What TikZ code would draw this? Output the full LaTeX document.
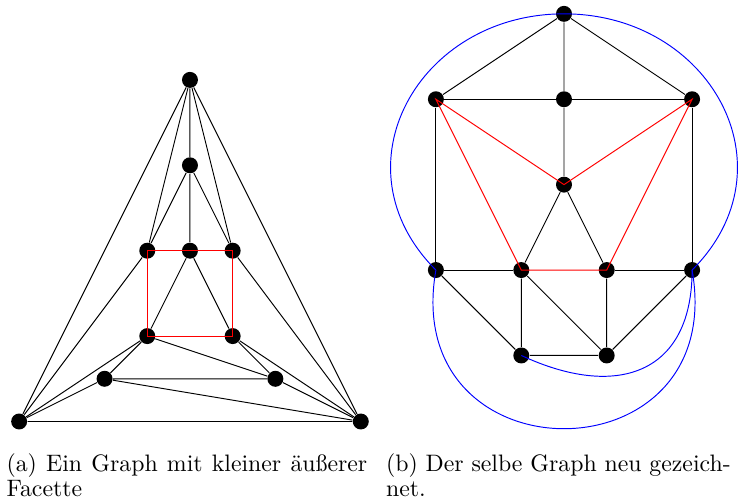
\documentclass[tikz,border=0pt]{standalone}
\usepackage{fontspec}
\usepackage{tikz}
\usetikzlibrary{positioning}

\begin{document}
\begin{tikzpicture}[
  vertex/.style={circle,fill=black,inner sep=0pt,minimum size=0.236cm},
  face/.style={red},
  outer/.style={blue},
  caption/.style={anchor=base west,inner sep=0pt,align=justify,
    font=\fontsize{10}{10.8}\selectfont}
]
\useasboundingbox (0,0) rectangle (10.931,7.386);

% (a) graph with small outer face
\begin{scope}[shift={(2.806,1.16)},x=1.2615cm,y=1.2615cm]
\node[vertex] (top) at (0,4) {};
\node[vertex] (mid) at (0,3) {};
\node[vertex] (ul) at (-0.5,2) {};
\node[vertex] (um) at (0,2) {};
\node[vertex] (ur) at (0.5,2) {};
\node[vertex] (ll) at (-0.5,1) {};
\node[vertex] (lr) at (0.5,1) {};
\node[vertex] (il) at (-1,0.5) {};
\node[vertex] (ir) at (1,0.5) {};
\node[vertex] (bl) at (-2,0) {};
\node[vertex] (br) at (2,0) {};

\draw (top) -- (mid) (top) -- (ul) (top) -- (ur) (top) -- (bl) (top) -- (br);
\draw (mid) -- (ul) (mid) -- (um) (mid) -- (ur);
\draw (um) -- (ll) (um) -- (lr);
\draw (ul) -- (bl) (ur) -- (br);
\draw (ll) -- (il) (ll) -- (bl) (ll) -- (ir);
\draw (lr) -- (ir) (lr) -- (br);
\draw (il) -- (ir) (il) -- (bl) (il) -- (br);
\draw (ir) -- (br) (bl) -- (br);
\draw[face] (ul.center) -- (um.center) -- (ur.center) -- (lr.center)
  -- (ll.center) -- cycle;
\end{scope}

% (b) same graph drawn again
\begin{scope}[shift={(8.331,3.397)},x=1.2615cm,y=1.2615cm]
\node[vertex] (t) at (0,3) {};
\node[vertex] (l2) at (-1.5,2) {};
\node[vertex] (m2) at (0,2) {};
\node[vertex] (r2) at (1.5,2) {};
\node[vertex] (c) at (0,1) {};
\node[vertex] (l3) at (-1.5,0) {};
\node[vertex] (p) at (-0.5,0) {};
\node[vertex] (q) at (0.5,0) {};
\node[vertex] (r3) at (1.5,0) {};
\node[vertex] (b1) at (-0.5,-1) {};
\node[vertex] (b2) at (0.5,-1) {};

\draw (t) -- (l2) (t) -- (m2) (t) -- (r2);
\draw (l2) -- (m2) (m2) -- (r2) (l2) -- (l3) (r2) -- (r3);
\draw (m2) -- (c) (c) -- (p) (c) -- (q);
\draw (l3) -- (p) (q) -- (r3);
\draw (l3) -- (b1) (r3) -- (b2);
\draw (p) -- (b1) (p) -- (b2) (q) -- (b2) (b1) -- (b2);
\draw[face] (l2.center) -- (c.center) -- (r2.center) -- (q.center)
  -- (p.center) -- cycle;
\draw[outer] (l3.center) to[out=135,in=180,looseness=1.3] (t.center)
  to[out=0,in=45,looseness=1.3] (r3.center);
\draw[outer] (l3.center) to[out=-100,in=-80,looseness=2.15] (r3.center);
\draw[outer] (b1.center) to[out=-25,in=-90,looseness=1.4] (r3.center);
\end{scope}

\node[caption,text width=5.33cm] (capa) at (0.089,0.428)
  {(a) Ein Graph mit kleiner äußerer\linebreak Facette};
\node[caption,text width=5.09cm] (capb) at (5.696,0.428)
  {(b) Der selbe Graph neu gezeich-\linebreak net.};
\end{tikzpicture}
\end{document}
